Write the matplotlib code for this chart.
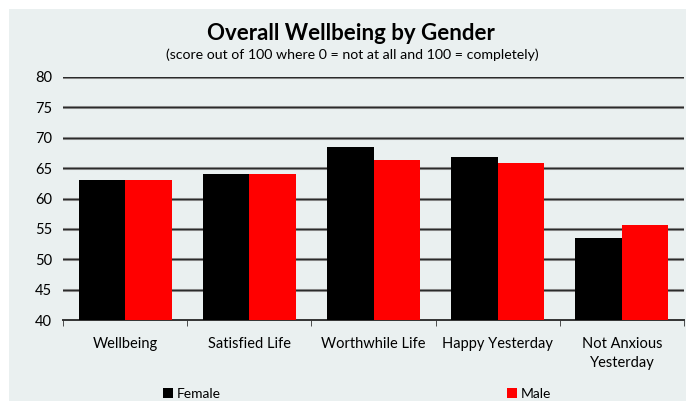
import numpy as np
import matplotlib
matplotlib.use('Agg')
from matplotlib import pyplot as plt
from matplotlib.patches import Rectangle

categories = ['Wellbeing', 'Satisfied Life', 'Worthwhile Life', 'Happy Yesterday', 'Not Anxious\nYesterday']
female = [63.1, 64.1, 68.4, 66.8, 53.5]
male = [63.1, 64.0, 66.4, 65.9, 55.7]
yticks = [40, 45, 50, 55, 60, 65, 70, 75, 80]

BG = '#EAF0F0'
plt.rcParams['font.family'] = ['Lato', 'DejaVu Sans']

fig = plt.figure(figsize=(6.86, 4.01), dpi=100)
fig.patch.set_facecolor('white')
# light panel behind everything, white border at top/left
fig.add_artist(Rectangle((9 / 686, 0), 1, 1 - 9 / 401, transform=fig.transFigure,
                         facecolor=BG, edgecolor='none', zorder=-5))

ax = fig.add_axes([63 / 686, 1 - 320 / 401, 621 / 686, 243 / 401])
ax.set_facecolor(BG)

x = np.arange(len(categories))
w = 0.375
ax.bar(x - w / 2, female, w, color='black', label='Female', zorder=3)
ax.bar(x + w / 2, male, w, color='#FF0000', label='Male', zorder=3)

ax.set_ylim(40, 80)
ax.set_xlim(-0.5, len(categories) - 0.5)
ax.set_yticks(yticks)
ax.tick_params(axis='y', length=0, pad=8, labelsize=10.5)
for v in yticks[1:]:
    ax.axhline(v, color='#9a9a9a', lw=2.2, zorder=1)
    ax.axhline(v, color='#2b2b2b', lw=1.0, zorder=2)

ax.set_xticks(x)
ax.set_xticklabels(categories, fontsize=10.5, linespacing=1.45)
ax.tick_params(axis='x', which='major', length=0, pad=12)
ax.set_xticks(np.arange(-0.5, len(categories)), minor=True)
ax.tick_params(axis='x', which='minor', length=4, direction='out', color='#333333')

for s in ['top', 'right', 'left']:
    ax.spines[s].set_visible(False)
ax.spines['bottom'].set_color('#333333')
ax.spines['bottom'].set_linewidth(1.4)

fig.text(0.512, 1 - 33 / 401, 'Overall Wellbeing by Gender', ha='center', va='center',
         fontsize=16, fontweight='bold')
fig.text(0.513, 1 - 55 / 401, '(score out of 100 where 0 = not at all and 100 = completely)',
         ha='center', va='center', fontsize=10.2)

fig.legend(loc='center', bbox_to_anchor=(0.52, 1 - 394 / 401), ncol=2, frameon=False,
           fontsize=10, handlelength=0.75, handleheight=0.75, handletextpad=0.25,
           columnspacing=20.6, borderaxespad=0)

fig.savefig('out.png', dpi=100, facecolor='white')
